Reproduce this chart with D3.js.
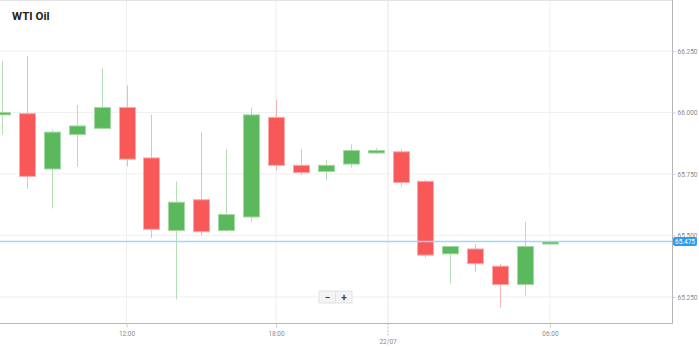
<!DOCTYPE html>
<html>
<head>
<meta charset="utf-8">
<script src="https://cdn.jsdelivr.net/npm/d3@7"></script>
<style>
  body { margin: 0; background: #fff; }
  svg { display: block; font-family: Roboto, "Noto Sans", sans-serif; }
</style>
</head>
<body>
<div id="chart-container"></div>
<script>
// CONSTANTS
const WIDTH = 699;
const HEIGHT = 348;
const PLOT_W = 672;
const PLOT_H = 323;
const GREEN = "#5cb85c";
const RED = "#f95858";

// DATA (hourly candles, 21/07 07:00 -> 22/07 06:00, no 23:00 bar)
const times = ["07:00", "08:00", "09:00", "10:00", "11:00", "12:00", "13:00", "14:00",
  "15:00", "16:00", "17:00", "18:00", "19:00", "20:00", "21:00", "22:00",
  "00:00", "01:00", "02:00", "03:00", "04:00", "05:00", "06:00"];
const opens = [65.990, 65.995, 65.770, 65.910, 65.935, 66.020, 65.815, 65.520,
  65.645, 65.520, 65.575, 65.980, 65.785, 65.760, 65.790, 65.835,
  65.840, 65.720, 65.425, 65.445, 65.375, 65.300, 65.465];
const highs = [66.210, 66.230, 65.930, 66.030, 66.180, 66.110, 65.990, 65.720,
  65.920, 65.850, 66.020, 66.050, 65.850, 65.805, 65.870, 65.855,
  65.850, 65.725, 65.455, 65.465, 65.385, 65.555, 65.475];
const lows = [65.910, 65.690, 65.610, 65.780, 65.930, 65.780, 65.490, 65.240,
  65.500, 65.515, 65.555, 65.765, 65.745, 65.725, 65.775, 65.830,
  65.700, 65.410, 65.305, 65.350, 65.205, 65.255, 65.460];
const closes = [66.000, 65.740, 65.920, 65.945, 66.020, 65.810, 65.525, 65.635,
  65.515, 65.585, 65.990, 65.785, 65.755, 65.785, 65.845, 65.845,
  65.715, 65.420, 65.455, 65.385, 65.300, 65.455, 65.475];
const yTicks = [65.25, 65.5, 65.75, 66.0, 66.25];
const xTickLabels = ["12:00", "18:00", "06:00"];
const dayLabel = "22/07";
const lastPrice = 65.475;

const candles = times.map((t, i) => ({
  i, t, open: opens[i], high: highs[i], low: lows[i], close: closes[i]
}));

// SCALES
const x = d3.scaleLinear().domain([-0.08, 26.9]).range([0, PLOT_W]);
const y = d3.scaleLinear().domain([65.144, 66.457]).range([PLOT_H, 0]);
const bodyW = 16;

const svg = d3.select("#chart-container")
  .append("svg")
  .attr("width", WIDTH)
  .attr("height", HEIGHT);

// GRID
svg.append("g")
  .selectAll("line")
  .data(yTicks)
  .join("line")
  .attr("x1", 0).attr("x2", PLOT_W)
  .attr("y1", d => y(d)).attr("y2", d => y(d))
  .attr("stroke", "#efefef");

const xTickIdx = xTickLabels.map(l => times.indexOf(l));
const dayIdx = times.indexOf("00:00") - 0.5;

svg.append("g")
  .selectAll("line")
  .data(xTickIdx)
  .join("line")
  .attr("x1", d => x(d)).attr("x2", d => x(d))
  .attr("y1", 0).attr("y2", PLOT_H)
  .attr("stroke", "#efefef");

svg.append("line")
  .attr("x1", x(dayIdx)).attr("x2", x(dayIdx))
  .attr("y1", 0).attr("y2", PLOT_H)
  .attr("stroke", "#e6e6e6");

// TITLE
svg.append("text")
  .attr("x", 12).attr("y", 19.5)
  .attr("font-size", 11.5)
  .attr("font-weight", "bold")
  .attr("fill", "#222")
  .text("WTI Oil");

// CANDLES
const candleG = svg.append("g");
candleG.selectAll("line")
  .data(candles)
  .join("line")
  .attr("x1", d => Math.round(x(d.i)) + 0.5)
  .attr("x2", d => Math.round(x(d.i)) + 0.5)
  .attr("y1", d => y(d.high))
  .attr("y2", d => y(d.low))
  .attr("stroke", d => d.close >= d.open ? GREEN : RED)
  .attr("stroke-opacity", 0.45);

candleG.selectAll("rect")
  .data(candles)
  .join("rect")
  .attr("x", d => Math.round(x(d.i)) - bodyW / 2 + 0.5)
  .attr("width", bodyW)
  .attr("y", d => y(Math.max(d.open, d.close)))
  .attr("height", d => Math.max(1.5, y(Math.min(d.open, d.close)) - y(Math.max(d.open, d.close))))
  .attr("fill", d => d.close >= d.open ? GREEN : RED)
  .attr("stroke", d => d.close >= d.open ? "#a3d9a3" : "#fca9a9")
  .attr("stroke-width", 1);

// LAST PRICE LINE
svg.append("line")
  .attr("x1", 0).attr("x2", PLOT_W)
  .attr("y1", y(lastPrice)).attr("y2", y(lastPrice))
  .attr("stroke", "#a6d6f5")
  .attr("stroke-width", 1.5);

// BORDERS
svg.append("line")
  .attr("x1", 0).attr("x2", PLOT_W).attr("y1", 0.5).attr("y2", 0.5)
  .attr("stroke", "#e4e4e4");
svg.append("line")
  .attr("x1", 0).attr("x2", PLOT_W + 0.5).attr("y1", PLOT_H + 0.5).attr("y2", PLOT_H + 0.5)
  .attr("stroke", "#b5b5b5");
svg.append("line")
  .attr("x1", PLOT_W + 0.5).attr("x2", PLOT_W + 0.5).attr("y1", 0).attr("y2", PLOT_H + 0.5)
  .attr("stroke", "#b5b5b5");

// Y AXIS
const yAxis = d3.axisRight(y)
  .tickValues(yTicks)
  .tickSize(3)
  .tickPadding(2)
  .tickFormat(d3.format(".3f"));
const yAxisG = svg.append("g")
  .attr("transform", `translate(${PLOT_W + 0.5},0)`)
  .call(yAxis);
yAxisG.select(".domain").remove();
yAxisG.selectAll("line").attr("stroke", "#cfcfcf");
yAxisG.selectAll("text")
  .attr("font-size", 6.5)
  .attr("font-family", "Roboto, sans-serif")
  .attr("fill", "#8a8a8a");

// X AXIS
const xAxis = d3.axisBottom(x)
  .tickValues(xTickIdx)
  .tickSize(4)
  .tickPadding(4)
  .tickFormat(d => times[d]);
const xAxisG = svg.append("g")
  .attr("transform", `translate(0,${PLOT_H + 0.5})`)
  .call(xAxis);
xAxisG.select(".domain").remove();
xAxisG.selectAll("line").attr("stroke", "#cfcfcf");
xAxisG.selectAll("text")
  .attr("font-size", 6.5)
  .attr("font-family", "Roboto, sans-serif")
  .attr("fill", "#8a8a8a");

svg.append("line")
  .attr("x1", x(dayIdx)).attr("x2", x(dayIdx))
  .attr("y1", PLOT_H).attr("y2", PLOT_H + 13)
  .attr("stroke", "#bdbdbd")
  .attr("stroke-dasharray", "2,1.5");
svg.append("text")
  .attr("x", x(dayIdx))
  .attr("y", PLOT_H + 21)
  .attr("text-anchor", "middle")
  .attr("font-size", 6.5)
  .attr("fill", "#8a8a8a")
  .text(dayLabel);

// LAST PRICE LABEL
const lp = svg.append("g").attr("transform", `translate(${PLOT_W + 1},${y(lastPrice)})`);
lp.append("rect")
  .attr("x", 0).attr("y", -4.5)
  .attr("width", 24).attr("height", 9)
  .attr("rx", 2)
  .attr("fill", "#2a9df4");
lp.append("text")
  .attr("x", 12).attr("y", 2.3)
  .attr("text-anchor", "middle")
  .attr("font-size", 6.5)
  .attr("fill", "#fff")
  .text(d3.format(".3f")(lastPrice));

// ZOOM BUTTONS
const zb = svg.append("g").attr("transform", "translate(319,291)");
zb.append("rect")
  .attr("width", 33).attr("height", 12)
  .attr("fill", "#f4f4f4")
  .attr("stroke", "#e2e2e2");
zb.append("line")
  .attr("x1", 16.5).attr("x2", 16.5).attr("y1", 0).attr("y2", 12)
  .attr("stroke", "#e2e2e2");
zb.append("text")
  .attr("x", 8.5).attr("y", 9.5)
  .attr("text-anchor", "middle")
  .attr("font-size", 10).attr("font-weight", "bold")
  .attr("fill", "#444")
  .text("−");
zb.append("text")
  .attr("x", 25).attr("y", 9.5)
  .attr("text-anchor", "middle")
  .attr("font-size", 10).attr("font-weight", "bold")
  .attr("fill", "#444")
  .text("+");
</script>
</body>
</html>
